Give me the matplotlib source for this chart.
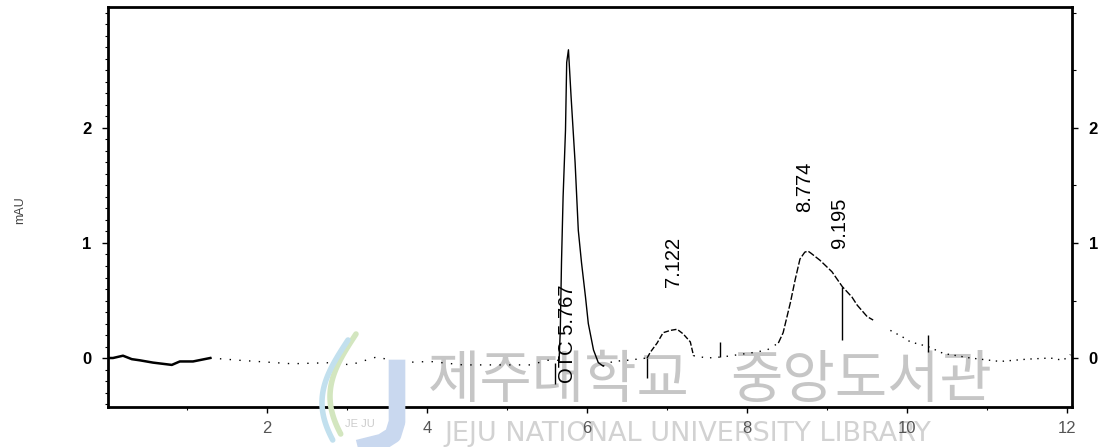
import numpy as np
import matplotlib
matplotlib.use("Agg")
import matplotlib.pyplot as plt
from matplotlib.ticker import MultipleLocator, FixedLocator

plt.rcParams['font.family'] = ['Liberation Sans', 'DejaVu Sans']

# chromatogram trace (time in min, signal in mAU)
time_min = [0.04, 0.075, 0.2, 0.31, 0.41, 0.575, 0.81, 0.91, 1.075, 1.29,
            1.66, 2.31, 2.83, 3.04, 3.375, 3.66, 4.04, 4.45, 4.875, 5.29, 5.5,
            5.65, 5.665, 5.68, 5.70, 5.73, 5.745, 5.767, 5.80, 5.85, 5.89, 5.93,
            5.98, 6.015, 6.08, 6.14, 6.2, 6.32,
            6.5, 6.75, 6.79, 6.875, 6.95, 7.04, 7.125, 7.2, 7.29, 7.33, 7.5, 7.7,
            7.9, 8.1, 8.25,
            8.39, 8.45, 8.54, 8.6, 8.66, 8.72, 8.76, 8.8, 8.91, 9.06, 9.19, 9.31,
            9.375, 9.5, 9.575, 9.79, 9.95, 10.04, 10.26, 10.45, 10.79, 11.16,
            11.5, 11.79, 11.95, 12.04]
signal_mau = [0.0, 0.0, 0.02, -0.01, -0.02, -0.04, -0.06, -0.03, -0.03, 0.0,
              -0.02, -0.05, -0.04, -0.06, 0.01, -0.04, -0.03, -0.06, -0.06, -0.06, -0.02,
              -0.02, 0.24, 0.83, 1.4, 1.98, 2.57, 2.68, 2.27, 1.70, 1.11, 0.83,
              0.53, 0.30, 0.07, -0.04, -0.07, -0.03,
              -0.02, 0.0, 0.05, 0.13, 0.22, 0.24, 0.25, 0.21, 0.14, 0.02, 0.0, 0.01,
              0.03, 0.05, 0.07,
              0.13, 0.22, 0.48, 0.68, 0.86, 0.92, 0.93, 0.91, 0.85, 0.75, 0.62, 0.53,
              0.46, 0.36, 0.33, 0.24, 0.18, 0.14, 0.10, 0.04, 0.0, -0.03,
              -0.01, 0.0, -0.02, 0.03]

# integration tick marks
mark_t = [5.6, 6.75, 7.66, 9.19, 10.26]
mark_lo = [-0.23, -0.17, 0.01, 0.16, 0.05]
mark_hi = [-0.04, 0.0, 0.14, 0.62, 0.20]

# peak annotations
peak_text = ["OTC 5.767", "7.122", "8.774", "9.195"]
peak_x = [5.75, 7.075, 8.72, 9.16]
peak_y = [-0.22, 0.62, 1.27, 0.96]

x_ticks = [2, 4, 6, 8, 10, 12]
y_ticks = [0, 1, 2]

t = np.array(time_min)
s = np.array(signal_mau)

fig = plt.figure(figsize=(11.08, 4.47), dpi=100)
ax = fig.add_axes([108 / 1108, 40 / 447, 964 / 1108, 400 / 447])
ax.set_facecolor('none')

# segments styled like the faded scan
segs = [(0.0, 1.29, '-', 1.8), (1.29, 5.65, (0, (1, 6)), 1.0),
        (5.65, 6.2, '-', 1.0), (6.2, 6.75, (0, (1, 5)), 1.0),
        (6.75, 7.33, (0, (4, 1.5)), 1.0), (7.33, 8.39, (0, (1, 5)), 1.0),
        (8.39, 9.6, (0, (5, 1.5)), 1.0), (9.6, 12.1, (0, (1, 4)), 1.0)]
for a, b, ls, lw in segs:
    m = (t >= a) & (t <= b)
    ax.plot(t[m], s[m], color='black', lw=lw, ls=ls, zorder=3)

ax.vlines(mark_t, mark_lo, mark_hi, color='black', lw=1.0, zorder=3)

for txt, x, y in zip(peak_text, peak_x, peak_y):
    ax.text(x, y, txt, rotation=90, ha='center', va='bottom', fontsize=14.5,
            color='black', zorder=4)

ax.set_xlim(0.0125, 12.06)
ax.set_ylim(-0.426, 3.052)

for sp in ax.spines.values():
    sp.set_linewidth(2.0)
    sp.set_zorder(2.5)

ax.xaxis.set_major_locator(FixedLocator(x_ticks))
ax.xaxis.set_minor_locator(MultipleLocator(1))
ax.set_xticklabels([str(v) for v in x_ticks])
ax.set_yticks(y_ticks)
ax.yaxis.set_minor_locator(MultipleLocator(0.1))
ax.tick_params(axis='both', which='major', direction='out', length=4, width=1,
               labelsize=12)
ax.tick_params(axis='both', which='minor', direction='out', length=2.5, width=0.8)
ax.tick_params(axis='y', which='major', pad=8)
ax.tick_params(axis='x', which='major', pad=6, labelcolor='#555555')
for lab in ax.get_yticklabels():
    lab.set_fontweight('bold')

ax2 = ax.twinx()
ax2.set_ylim(ax.get_ylim())
ax2.set_yticks(y_ticks)
ax2.yaxis.set_minor_locator(MultipleLocator(0.5))
ax2.tick_params(axis='y', which='major', direction='out', length=4, width=1,
                labelsize=12, pad=8)
ax2.tick_params(axis='y', which='minor', direction='out', length=3, width=0.8)
for lab in ax2.get_yticklabels():
    lab.set_fontweight('bold')
for sp in ax2.spines.values():
    sp.set_visible(False)

fig.text(20 / 1108, 1 - 210 / 447, 'mAU', rotation=90, ha='center', va='center',
         fontsize=9, color='#444444')

# library watermark
kr = ['Noto Sans CJK KR', 'DejaVu Sans']
ax.text(559 / 1108, 1 - 381 / 447, '제주대학교', transform=fig.transFigure,
        ha='center', va='center', fontsize=41, color='#c6c6c6',
        family=kr, zorder=0.5, clip_on=False)
ax.text(861 / 1108, 1 - 381 / 447, '중앙도서관', transform=fig.transFigure,
        ha='center', va='center', fontsize=41, color='#c6c6c6',
        family=kr, zorder=0.5, clip_on=False)
ax.text(688 / 1108, 1 - 434 / 447, 'JEJU NATIONAL UNIVERSITY LIBRARY',
        transform=fig.transFigure, ha='center', va='center', fontsize=19.5,
        color='#d2d2d2', family=['DejaVu Sans'], zorder=0.5, clip_on=False)

# logo: swooshes and J
th = np.linspace(0, 1, 50)
fig.add_artist(plt.Line2D((356 - 26 * np.sin(np.pi * th * 0.8)) / 1108,
                          1 - (334 + 100 * th) / 447, color='#d3e6bf', lw=4,
                          solid_capstyle='round', zorder=0.4))
fig.add_artist(plt.Line2D((348 - 26 * np.sin(np.pi * th * 0.8)) / 1108,
                          1 - (340 + 100 * th) / 447, color='#c2e0ee', lw=4,
                          solid_capstyle='round', zorder=0.4))
fig.add_artist(plt.Line2D(np.array([397, 397, 393, 382, 366]) / 1108,
                          1 - np.array([368, 422, 435, 442, 446]) / 447,
                          color='#c9d8ef', lw=12, zorder=0.4))
fig.text(360 / 1108, 1 - 424 / 447, 'JE JU', fontsize=8, color='#cccccc',
         ha='center', va='center', zorder=0.5)

fig.savefig('out.png', dpi=100)
